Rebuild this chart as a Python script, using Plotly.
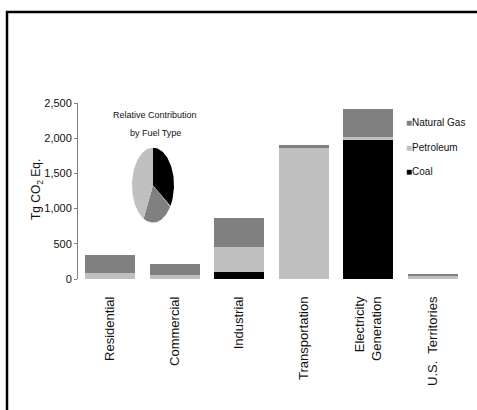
import numpy as np
import plotly.graph_objects as go

# Emissions by end-use sector and fuel (Tg CO2 Eq.)
categories = ["Residential", "Commercial", "Industrial", "Transportation",
              "Electricity<br>Generation", "U.S.\u00a0 Territories"]
coal = [0, 5, 100, 0, 1970, 0]
petroleum = [85, 45, 350, 1856, 42, 45]
natural_gas = [262, 163, 412, 42, 398, 15]

# Relative contribution by fuel type (percent), clockwise from 12 o'clock
pie_labels = ["Coal", "Natural Gas", "Petroleum"]
pie_shares = [34.4, 23.0, 42.6]

y_ticks = [0, 500, 1000, 1500, 2000, 2500]
y_ticktext = ["0", "500", "1,000", "1,500", "2,000", "2,500"]

colors = {"Coal": "#000000", "Petroleum": "#c0c0c0", "Natural Gas": "#808080"}

SANS = "Liberation Sans, Arial, sans-serif"

fig = go.Figure()

for name, vals in [("Coal", coal), ("Petroleum", petroleum), ("Natural Gas", natural_gas)]:
    fig.add_trace(go.Bar(x=categories, y=vals, name=name,
                         marker=dict(color=colors[name], line=dict(width=0)),
                         showlegend=False))

# Inset pie drawn as filled polygons on its own pair of axes
total = sum(pie_shares)
start = 0.0
for lab, share in zip(pie_labels, pie_shares):
    frac0 = start / total
    frac1 = (start + share) / total
    theta = np.radians(90 - 360 * np.linspace(frac0, frac1, 60))
    xs = np.concatenate([[0], np.cos(theta), [0]])
    ys = np.concatenate([[0], np.sin(theta), [0]])
    fig.add_trace(go.Scatter(x=xs, y=ys, xaxis="x2", yaxis="y2", mode="lines",
                             fill="toself", fillcolor=colors[lab],
                             line=dict(width=0, color=colors[lab]),
                             hoverinfo="skip", showlegend=False))
    start += share

L, R, T, B = 78, 12, 103, 131
W, H = 477, 410
pw, ph = W - L - R, H - T - B

def px_x(x):
    return (x - L) / pw

def px_y(y):
    return (H - B - y) / ph

annotations = [
    dict(text="Relative Contribution", x=px_x(155), y=px_y(115), xref="paper", yref="paper",
         showarrow=False, xanchor="center", yanchor="middle",
         font=dict(family=SANS, size=9, color="#111")),
    dict(text="by Fuel Type", x=px_x(155), y=px_y(133), xref="paper", yref="paper",
         showarrow=False, xanchor="center", yanchor="middle",
         font=dict(family=SANS, size=9, color="#111")),
    dict(text="Tg CO<sub>2</sub> Eq.", x=px_x(37), y=px_y(190), xref="paper", yref="paper",
         showarrow=False, textangle=-90, xanchor="center", yanchor="middle",
         font=dict(family=SANS, size=12, color="#111")),
]

# Legend entries, top to bottom
for lab, ypx in [("Natural Gas", 122), ("Petroleum", 147), ("Coal", 171)]:
    annotations.append(dict(
        text=f"<span style='color:{colors[lab]}'>\u25a0</span>{lab}",
        x=px_x(404), y=px_y(ypx), xref="paper", yref="paper",
        showarrow=False, xanchor="left", yanchor="middle",
        font=dict(family=SANS, size=10, color="#111")))

fig.update_layout(
    width=W, height=H,
    margin=dict(l=L, r=R, t=T, b=B),
    paper_bgcolor="white", plot_bgcolor="white",
    barmode="stack", bargap=0.225,
    xaxis=dict(showline=False, ticks="", showgrid=False, tickangle=-90,
               tickfont=dict(family=SANS, size=13, color="#111"),
               ticklabelstandoff=14),
    yaxis=dict(range=[0, 2500], tickvals=y_ticks, ticktext=y_ticktext,
               showgrid=False, zeroline=False, showline=True, linecolor="#808080",
               linewidth=1, ticks="outside", ticklen=3, tickcolor="#808080",
               tickfont=dict(family=SANS, size=11, color="#111")),
    xaxis2=dict(domain=[px_x(132), px_x(174)], range=[-1, 1], visible=False,
                anchor="y2", fixedrange=True),
    yaxis2=dict(domain=[px_y(222.7), px_y(147.7)], range=[-1, 1], visible=False,
                anchor="x2", fixedrange=True),
    annotations=annotations,
    shapes=[dict(type="rect", xref="paper", yref="paper",
                 x0=px_x(7), x1=px_x(W + 20), y0=px_y(H + 20), y1=px_y(12),
                 line=dict(color="black", width=2.5), layer="above")],
)

fig.write_html("out.html")
